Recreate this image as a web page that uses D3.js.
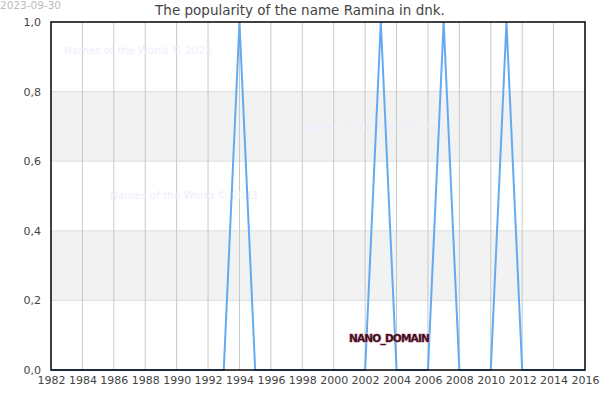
<!DOCTYPE html>
<html>
<head>
<meta charset="utf-8">
<script src="https://cdn.jsdelivr.net/npm/d3@7"></script>
<style>
  body { margin: 0; background: #fff; }
  text { font-family: "DejaVu Sans", sans-serif; }
</style>
</head>
<body>
<div id="chart"></div>
<script>
// 資料
const years = d3.range(1982, 2017);
const values = [0,0,0,0,0,0,0,0,0,0,0,0,1,0,0,0,0,0,0,0,0,1,0,0,0,1,0,0,0,1,0,0,0,0,0];
const xTicks = d3.range(1982, 2017, 2);
const yTicks = [0, 0.2, 0.4, 0.6, 0.8, 1.0];
const bands = [[0.2, 0.4], [0.6, 0.8]];
const watermarks = [[64, 50], [302, 127], [110, 195]];

const width = 600, height = 400;
const margin = { top: 22, right: 15, bottom: 30, left: 51 };

const svg = d3.select("#chart").append("svg")
    .attr("width", width)
    .attr("height", height);

const x = d3.scaleLinear().domain([1982, 2016]).range([margin.left, width - margin.right]);
const y = d3.scaleLinear().domain([0, 1]).range([height - margin.bottom, margin.top]);

// 灰色帶
svg.selectAll("rect.band")
    .data(bands)
    .enter()
    .append("rect")
    .attr("x", x(1982))
    .attr("width", x(2016) - x(1982))
    .attr("y", d => y(d[1]))
    .attr("height", d => y(d[0]) - y(d[1]))
    .attr("fill", "#f2f2f2");

// 水平格線
svg.selectAll("line.hgrid")
    .data(yTicks.slice(1, -1))
    .enter()
    .append("line")
    .attr("x1", x(1982)).attr("x2", x(2016))
    .attr("y1", d => y(d)).attr("y2", d => y(d))
    .attr("stroke", "#ddd");

// 垂直格線
svg.selectAll("line.vgrid")
    .data(xTicks.slice(1, -1))
    .enter()
    .append("line")
    .attr("x1", d => x(d)).attr("x2", d => x(d))
    .attr("y1", y(0)).attr("y2", y(1))
    .attr("stroke", "#c8c8c8");

// 浮水印
svg.selectAll("text.wm")
    .data(watermarks)
    .enter()
    .append("text")
    .attr("x", d => d[0])
    .attr("y", d => d[1])
    .attr("dy", "0.35em")
    .attr("font-size", 10.5)
    .attr("fill", "#eeeefc")
    .text("Names of the World © 2023");

// 折線
const line = d3.line()
    .x((d, i) => x(years[i]))
    .y(d => y(d));

svg.append("path")
    .datum(values)
    .attr("d", line)
    .attr("fill", "none")
    .attr("stroke", "#64aaf0")
    .attr("stroke-width", 2);

// 外框
svg.append("rect")
    .attr("x", x(1982))
    .attr("y", y(1))
    .attr("width", x(2016) - x(1982))
    .attr("height", y(0) - y(1))
    .attr("fill", "none")
    .attr("stroke", "#000")
    .attr("stroke-width", 1.5);

// 座標軸
const xAxis = d3.axisBottom(x).tickValues(xTicks).tickFormat(d3.format("d")).tickSize(0).tickPadding(6);
svg.append("g")
    .attr("transform", `translate(0,${y(0)})`)
    .call(xAxis)
    .call(g => g.select(".domain").remove())
    .call(g => g.selectAll("text").attr("font-size", 11).attr("fill", "#444").attr("font-family", "DejaVu Sans, sans-serif"));

const yAxis = d3.axisLeft(y).tickValues(yTicks).tickFormat(d => d3.format(".1f")(d).replace(".", ",")).tickSize(0).tickPadding(10);
svg.append("g")
    .attr("transform", `translate(${x(1982)},0)`)
    .call(yAxis)
    .call(g => g.select(".domain").remove())
    .call(g => g.selectAll("text").attr("font-size", 11).attr("fill", "#444").attr("font-family", "DejaVu Sans, sans-serif"));

// 標題
svg.append("text")
    .attr("x", 300)
    .attr("y", 15)
    .attr("text-anchor", "middle")
    .attr("font-size", 13.5)
    .attr("fill", "#444")
    .text("The popularity of the name Ramina in dnk.");

// 日期
svg.append("text")
    .attr("x", 0)
    .attr("y", 9)
    .attr("font-size", 10.5)
    .attr("fill", "#bbb")
    .text("2023-09-30");

// NANO_DOMAIN
svg.append("text")
    .attr("x", 389)
    .attr("y", 338)
    .attr("dy", "0.35em")
    .attr("text-anchor", "middle")
    .attr("font-size", 10.5)
    .attr("font-weight", "bold")
    .attr("letter-spacing", -0.8)
    .attr("fill", "#3a1020")
    .attr("stroke", "#e0a0b4")
    .attr("stroke-width", 1.2)
    .attr("paint-order", "stroke")
    .text("NANO_DOMAIN");
</script>
</body>
</html>
